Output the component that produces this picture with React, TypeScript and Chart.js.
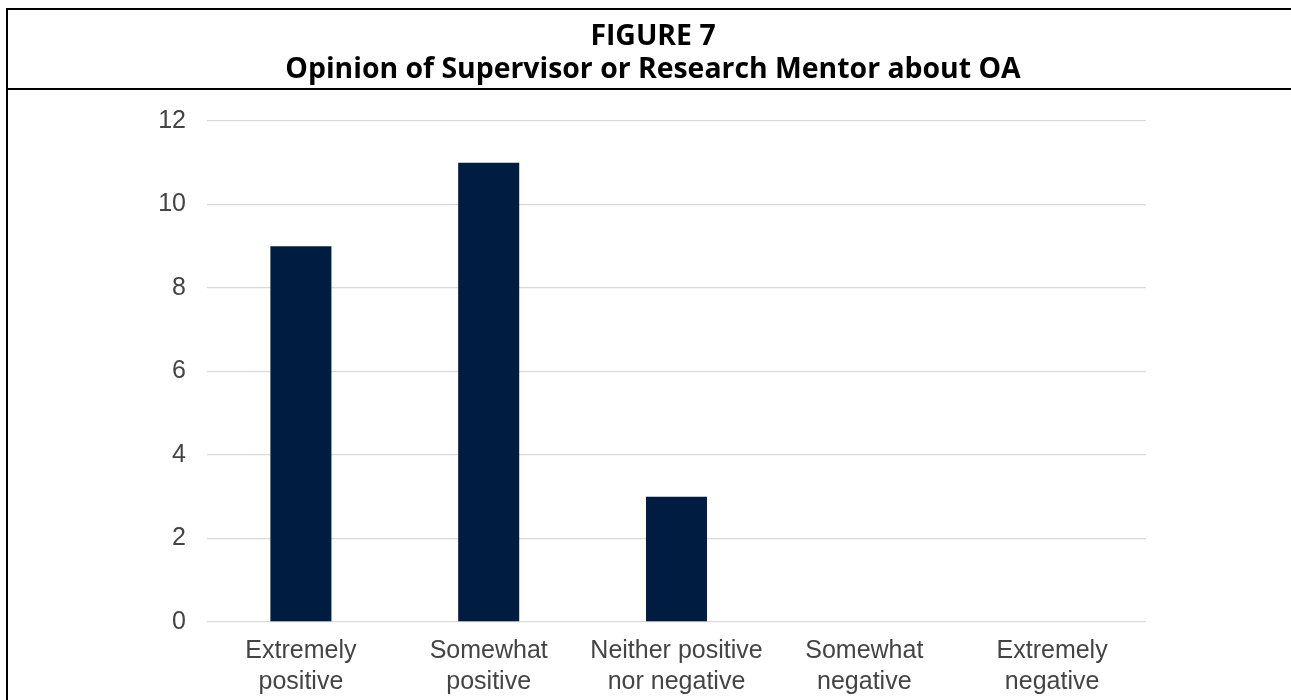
import React, { useEffect, useRef } from "react";
import { Chart, registerables } from "chart.js";

Chart.register(...registerables);

const titleLine1 = "FIGURE 7";
const titleLine2 = "Opinion of Supervisor or Research Mentor about OA";
const categories: string[][] = [
  ["Extremely", "positive"],
  ["Somewhat", "positive"],
  ["Neither positive", "nor negative"],
  ["Somewhat", "negative"],
  ["Extremely", "negative"],
];
const values: number[] = [9, 11, 3, 0, 0];
const yTicks: number[] = [0, 2, 4, 6, 8, 10, 12];

export default function App() {
  const ref = useRef<HTMLCanvasElement | null>(null);
  useEffect(() => {
    if (!ref.current) return;
    const chart = new Chart(ref.current, {
      type: "bar",
      data: {
        labels: categories,
        datasets: [
          {
            data: values,
            backgroundColor: "#011c41",
            borderWidth: 0,
            categoryPercentage: 1,
            barPercentage: 0.325,
          },
        ],
      },
      options: {
        responsive: false,
        animation: false,
        layout: { padding: { left: 0, right: 145, top: 121, bottom: 0 } },
        plugins: { legend: { display: false }, tooltip: { enabled: false }, title: { display: false } },
        scales: {
          x: {
            grid: { display: false, drawTicks: false },
            border: { display: false },
            ticks: {
              color: "#444",
              font: { family: "'Liberation Sans', Arial, sans-serif", size: 25, lineHeight: 1.24 },
              padding: 14,
              maxRotation: 0,
              autoSkip: false,
            },
            afterFit: (s: any) => {
              s.height = 78;
            },
          },
          y: {
            min: 0,
            max: 12,
            afterBuildTicks: (s: any) => {
              s.ticks = yTicks.map((v) => ({ value: v }));
            },
            grid: { color: "#d9d9d9", lineWidth: 1.3, drawTicks: false },
            border: { display: false },
            ticks: {
              color: "#444",
              font: { family: "'Liberation Sans', Arial, sans-serif", size: 25 },
              padding: 21,
            },
            afterFit: (s: any) => {
              s.width = 207;
            },
          },
        },
      },
    });
    return () => chart.destroy();
  }, []);

  const titleStyle: React.CSSProperties = {
    position: "absolute",
    left: 6,
    width: 1294,
    textAlign: "center",
    fontFamily: "'Open Sans', sans-serif",
    fontWeight: 700,
    fontSize: 28.4,
    lineHeight: "33px",
    color: "#000",
    whiteSpace: "nowrap",
  };

  return (
    <div style={{ position: "fixed", left: 0, top: 0, width: 1291, height: 700, overflow: "hidden", background: "#fff" }}>
      <canvas ref={ref} width={1291} height={700} style={{ position: "absolute", left: 0, top: 0, width: 1291, height: 700 }} />
      <div
        style={{
          position: "absolute",
          left: 6,
          top: 8,
          width: 1400,
          height: 900,
          borderTop: "2px solid #000",
          borderLeft: "2px solid #000",
          boxSizing: "border-box",
          pointerEvents: "none",
        }}
      />
      <div style={{ position: "absolute", left: 6, top: 88, width: 1400, height: 2, background: "#000" }} />
      <div style={{ ...titleStyle, top: 17.7 }}>{titleLine1}</div>
      <div style={{ ...titleStyle, top: 50.7 }}>{titleLine2}</div>
    </div>
  );
}
